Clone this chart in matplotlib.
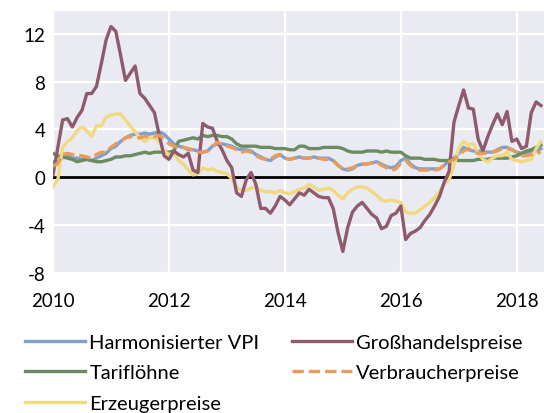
import numpy as np
import pandas as pd
import matplotlib
matplotlib.use("Agg")
import matplotlib.pyplot as plt

# Monthly year-on-year rates in %, January 2010 to June 2018
start_year = 2010

hvpi = [1.3, 1.1, 1.7, 1.8, 1.6, 1.6, 1.5, 1.5, 1.4, 1.6, 1.8, 2.0,
        2.4, 2.6, 3.0, 3.3, 3.5, 3.6, 3.6, 3.7, 3.6, 3.7, 3.8, 3.6,
        3.2, 2.8, 2.6, 2.5, 2.3, 2.3, 2.2, 2.1, 2.2, 2.6, 2.8, 2.8,
        2.7, 2.6, 2.4, 2.3, 2.3, 2.2, 1.9, 1.7, 1.5, 1.4, 1.7, 1.9,
        1.6, 1.5, 1.6, 1.7, 1.6, 1.6, 1.7, 1.6, 1.6, 1.6, 1.4, 1.0,
        0.7, 0.6, 0.7, 1.0, 1.1, 1.1, 1.2, 1.3, 1.1, 0.9, 0.8, 0.9,
        1.4, 1.6, 1.1, 0.8, 0.7, 0.7, 0.7, 0.7, 0.7, 1.0, 1.4, 1.6,
        2.0, 2.5, 2.3, 2.2, 2.2, 2.1, 2.1, 2.1, 2.3, 2.5, 2.5, 2.3,
        2.1, 2.0, 2.0, 2.2, 2.2, 2.4]

grosshandel = [0.2, 2.5, 4.8, 4.9, 4.2, 5.0, 5.6, 7.0, 7.0, 7.6, 9.5, 11.5,
               12.6, 12.2, 10.2, 8.1, 8.7, 9.3, 7.0, 6.6, 6.0, 5.4, 3.5, 1.8,
               1.5, 2.2, 1.9, 1.7, 2.0, 0.6, 0.4, 4.5, 4.2, 4.1, 3.0, 2.3,
               1.4, 0.8, -1.3, -1.6, -0.2, 0.4, -0.6, -2.6, -2.6, -3.0, -2.4, -1.6,
               -1.9, -2.3, -1.8, -1.3, -1.5, -1.0, -1.3, -1.6, -1.7, -1.7, -2.6, -4.6,
               -6.2, -4.2, -2.9, -2.4, -2.1, -2.6, -3.1, -3.4, -4.3, -4.1, -3.2, -3.0,
               -2.4, -5.2, -4.7, -4.5, -4.2, -3.6, -3.1, -2.4, -1.6, -0.4, 0.5, 4.6,
               6.0, 7.3, 5.8, 5.7, 3.2, 2.2, 3.4, 4.4, 5.3, 4.4, 5.5, 3.0,
               3.2, 2.4, 2.6, 5.4, 6.3, 6.0]

tarifloehne = [2.0, 1.8, 1.7, 1.6, 1.5, 1.3, 1.4, 1.5, 1.4, 1.3, 1.3, 1.4,
               1.5, 1.7, 1.7, 1.8, 1.8, 1.9, 2.0, 2.1, 2.0, 2.1, 2.1, 2.1,
               2.1, 2.2, 3.0, 3.1, 3.2, 3.3, 3.2, 3.5, 3.4, 3.5, 3.5, 3.4,
               3.4, 3.2, 2.8, 2.6, 2.6, 2.6, 2.6, 2.5, 2.5, 2.5, 2.4, 2.4,
               2.4, 2.3, 2.3, 2.6, 2.6, 2.4, 2.4, 2.4, 2.5, 2.5, 2.5, 2.5,
               2.4, 2.2, 2.1, 2.1, 2.1, 2.2, 2.2, 2.2, 2.1, 2.2, 2.1, 2.1,
               2.1, 1.8, 1.6, 1.6, 1.6, 1.5, 1.5, 1.5, 1.4, 1.4, 1.4, 1.5,
               1.4, 1.4, 1.4, 1.4, 1.5, 1.5, 1.5, 1.6, 1.6, 1.6, 1.6, 1.7,
               1.8, 2.0, 2.2, 2.3, 2.5, 2.7]

verbraucher = [0.9, 1.2, 1.9, 2.0, 1.9, 1.8, 1.8, 1.7, 1.6, 1.9, 2.1, 2.1,
               2.5, 2.8, 3.0, 3.3, 3.4, 3.3, 3.3, 3.4, 3.4, 3.4, 3.5, 3.2,
               2.8, 2.6, 2.5, 2.5, 2.4, 2.3, 2.1, 2.1, 2.2, 2.6, 2.9, 2.8,
               2.6, 2.5, 2.3, 2.1, 2.2, 2.1, 1.8, 1.6, 1.5, 1.5, 1.8, 1.9,
               1.6, 1.5, 1.6, 1.7, 1.6, 1.6, 1.7, 1.6, 1.5, 1.5, 1.4, 1.0,
               0.7, 0.7, 0.8, 1.0, 1.1, 1.1, 1.2, 1.3, 1.0, 0.8, 0.6, 0.7,
               1.2, 1.4, 1.0, 0.7, 0.6, 0.6, 0.6, 0.6, 0.7, 1.0, 1.3, 1.5,
               1.8, 2.2, 2.4, 2.1, 2.0, 2.0, 2.0, 2.1, 2.2, 2.4, 2.4, 2.3,
               2.1, 1.8, 1.8, 1.9, 2.0, 2.1]

erzeuger = [-0.8, -0.2, 2.5, 3.0, 3.3, 3.9, 4.2, 3.9, 3.4, 4.3, 4.3, 5.0,
            5.2, 5.3, 5.3, 4.8, 4.3, 3.8, 3.3, 3.0, 3.3, 3.3, 3.0, 2.2,
            1.9, 2.0, 1.4, 1.1, 0.6, 0.2, 0.3, 0.8, 0.6, 0.7, 0.5, 0.4,
            0.3, -0.1, -0.8, -1.1, -1.1, -0.9, -0.8, -1.1, -1.2, -1.2, -1.3, -1.1,
            -1.3, -1.4, -1.2, -1.0, -0.9, -0.6, -0.8, -1.1, -1.0, -0.9, -1.1, -1.5,
            -1.8, -1.3, -1.0, -0.8, -0.8, -0.9, -1.2, -1.5, -1.9, -2.0, -1.9, -2.0,
            -2.1, -2.9, -3.0, -3.0, -2.7, -2.4, -2.1, -1.7, -1.2, -0.5, -0.2, 1.0,
            2.4, 3.0, 2.7, 2.8, 2.0, 1.5, 1.3, 1.6, 1.8, 1.8, 2.1, 1.5,
            1.4, 1.3, 1.4, 1.5, 2.4, 3.0]

labels = ["Harmonisierter VPI", "Tariflöhne", "Erzeugerpreise",
          "Großhandelspreise", "Verbraucherpreise"]
x_ticks = [2010, 2012, 2014, 2016, 2018]
y_ticks = [-8, -4, 0, 4, 8, 12]

# decimal-year time axis
months = np.arange(len(hvpi))
t = start_year + months / 12.0

plt.rcParams['font.family'] = ['Lato', 'DejaVu Sans']

fig = plt.figure(figsize=(5.44, 4.14), dpi=100)
ax = fig.add_axes([53 / 544, 1 - 274 / 414, 1 - 53 / 544, (274 - 12) / 414])
ax.set_facecolor('#EAEAF2')
for s in ax.spines.values():
    s.set_visible(False)

ax.grid(True, color='white', linewidth=1.6)
ax.set_axisbelow(True)
ax.axhline(0, color='black', linewidth=2, zorder=2)

lw = 2.4
series = [
    (hvpi, '#819fcc', '-'),
    (tarifloehne, '#6a8c60', '-'),
    (erzeuger, '#f0d97f', '-'),
    (grosshandel, '#8f5a6b', '-'),
    (verbraucher, '#e89c5c', '--'),
]
handles = []
for (vals, col, ls), lab in zip(series, labels):
    kw = dict(dashes=(3.4, 1.5)) if ls == '--' else {}
    h, = ax.plot(t, vals, color=col, linestyle=ls, linewidth=lw, label=lab,
                 zorder=3, **kw)
    handles.append(h)

ax.set_xlim(2010, 2018.47)
ax.set_ylim(-8, 13.9)
ax.set_xticks(x_ticks)
ax.set_xticklabels([str(v) for v in x_ticks])
ax.set_yticks(y_ticks)
ax.set_yticklabels([str(v) for v in y_ticks])
ax.tick_params(length=0, labelsize=13.5)
ax.tick_params(axis='x', pad=14)
ax.tick_params(axis='y', pad=5.5)

fig.legend(handles=handles, labels=labels, ncol=2, frameon=False,
           loc='upper left', bbox_to_anchor=(25 / 544, 1 - 335 / 414),
           fontsize=14.5, handlelength=3.0, handletextpad=0.2,
           columnspacing=1.6, labelspacing=0.66, borderpad=0,
           borderaxespad=0)

fig.savefig('out.png', dpi=100)
